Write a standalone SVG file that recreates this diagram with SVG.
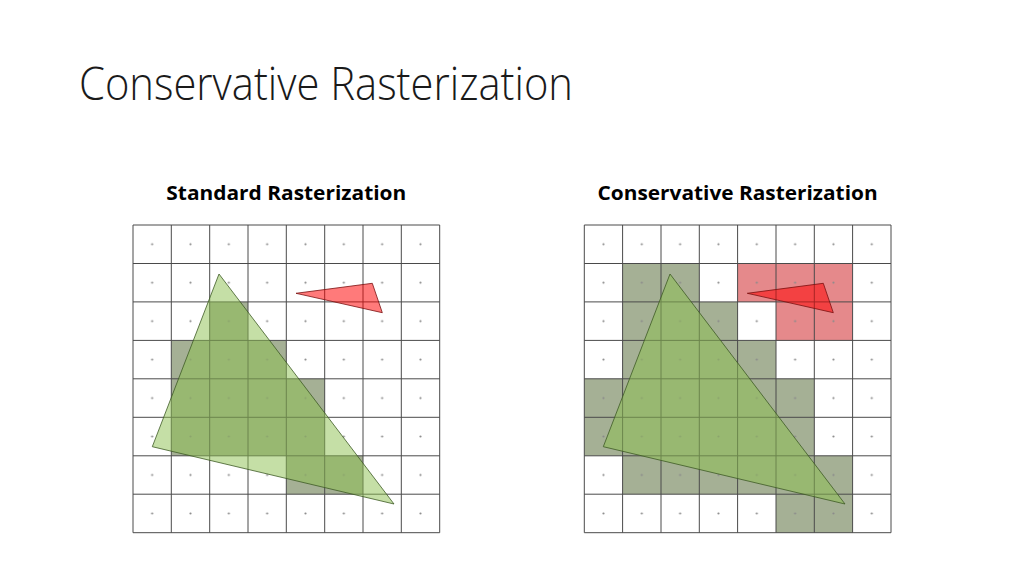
<svg xmlns="http://www.w3.org/2000/svg" width="1024" height="576" viewBox="0 0 1024 576">
<style>
.title{font-family:"Open Sans","Liberation Sans",sans-serif;font-weight:300;font-size:46px;fill:#1a1a1a}
.sub{font-family:"Open Sans","Liberation Sans",sans-serif;font-weight:700;font-size:19px;fill:#000}
.grid{fill:none;stroke:#4a4a4a;stroke-width:1}
.cell{fill:#a5b095}
.rcell{fill:#e5898b}
.gtri{fill:#8bc04e;fill-opacity:0.5;stroke:#3d5a25;stroke-width:0.8}
.rtri{fill:#ff0000;fill-opacity:0.52;stroke:#7a1010;stroke-width:0.8}
</style>
<defs>
<pattern id="dotsL" patternUnits="userSpaceOnUse" x="133" y="225" width="38.33" height="38.46">
<circle cx="19.17" cy="19.23" r="1.1" fill="#8a8a8a"/>
</pattern>
<pattern id="dotsR" patternUnits="userSpaceOnUse" x="584.3" y="225" width="38.33" height="38.46">
<circle cx="19.17" cy="19.23" r="1.1" fill="#8a8a8a"/>
</pattern>
</defs>
<rect width="1024" height="576" fill="#fff"/>
<text class="title" x="79" y="100" textLength="494" lengthAdjust="spacingAndGlyphs">Conservative Rasterization</text>
<text class="sub" x="286.3" y="200" text-anchor="middle" textLength="240" lengthAdjust="spacingAndGlyphs">Standard Rasterization</text>
<text class="sub" x="737.6" y="200" text-anchor="middle" textLength="280" lengthAdjust="spacingAndGlyphs">Conservative Rasterization</text>

<g id="standard">
<path class="cell" d="M209.7,301.9H248V340.4H286.3V378.8H324.7V455.8H363V494.2H286.3V455.8H171.3V340.4H209.7Z"/>
<rect x="133" y="225" width="306.7" height="307.7" fill="url(#dotsL)"/>
<path class="grid" d="M133,225V532.7M171.3,225V532.7M209.7,225V532.7M248,225V532.7M286.3,225V532.7M324.7,225V532.7M363,225V532.7M401.3,225V532.7M439.7,225V532.7M133,225H439.7M133,263.5H439.7M133,301.9H439.7M133,340.4H439.7M133,378.8H439.7M133,417.3H439.7M133,455.8H439.7M133,494.2H439.7M133,532.7H439.7"/>
<polygon id="std-green" class="gtri" points="219,274 152.3,446.7 394,504"/>
<polygon id="std-red" class="rtri" points="296,293.3 372.3,283.3 382.3,312.7"/>
</g>

<g id="conservative">
<path class="cell" d="M622.6,263.5H699.3V301.9H737.6V340.4H776V378.8H814.3V455.8H852.6V532.7H776V494.2H622.6V455.8H584.3V378.8H622.6Z"/>
<path class="rcell" d="M737.6,263.5H852.6V340.4H776V301.9H737.6Z"/>
<rect x="584.3" y="225" width="306.7" height="307.7" fill="url(#dotsR)"/>
<path class="grid" d="M584.3,225V532.7M622.6,225V532.7M661,225V532.7M699.3,225V532.7M737.6,225V532.7M776,225V532.7M814.3,225V532.7M852.6,225V532.7M891,225V532.7M584.3,225H891M584.3,263.5H891M584.3,301.9H891M584.3,340.4H891M584.3,378.8H891M584.3,417.3H891M584.3,455.8H891M584.3,494.2H891M584.3,532.7H891"/>
<polygon id="cons-green" class="gtri" points="670,274 603.3,446.7 845,504"/>
<polygon id="cons-red" class="rtri" points="747.3,293.3 823.3,283.3 833.3,312.7"/>
</g>
</svg>
